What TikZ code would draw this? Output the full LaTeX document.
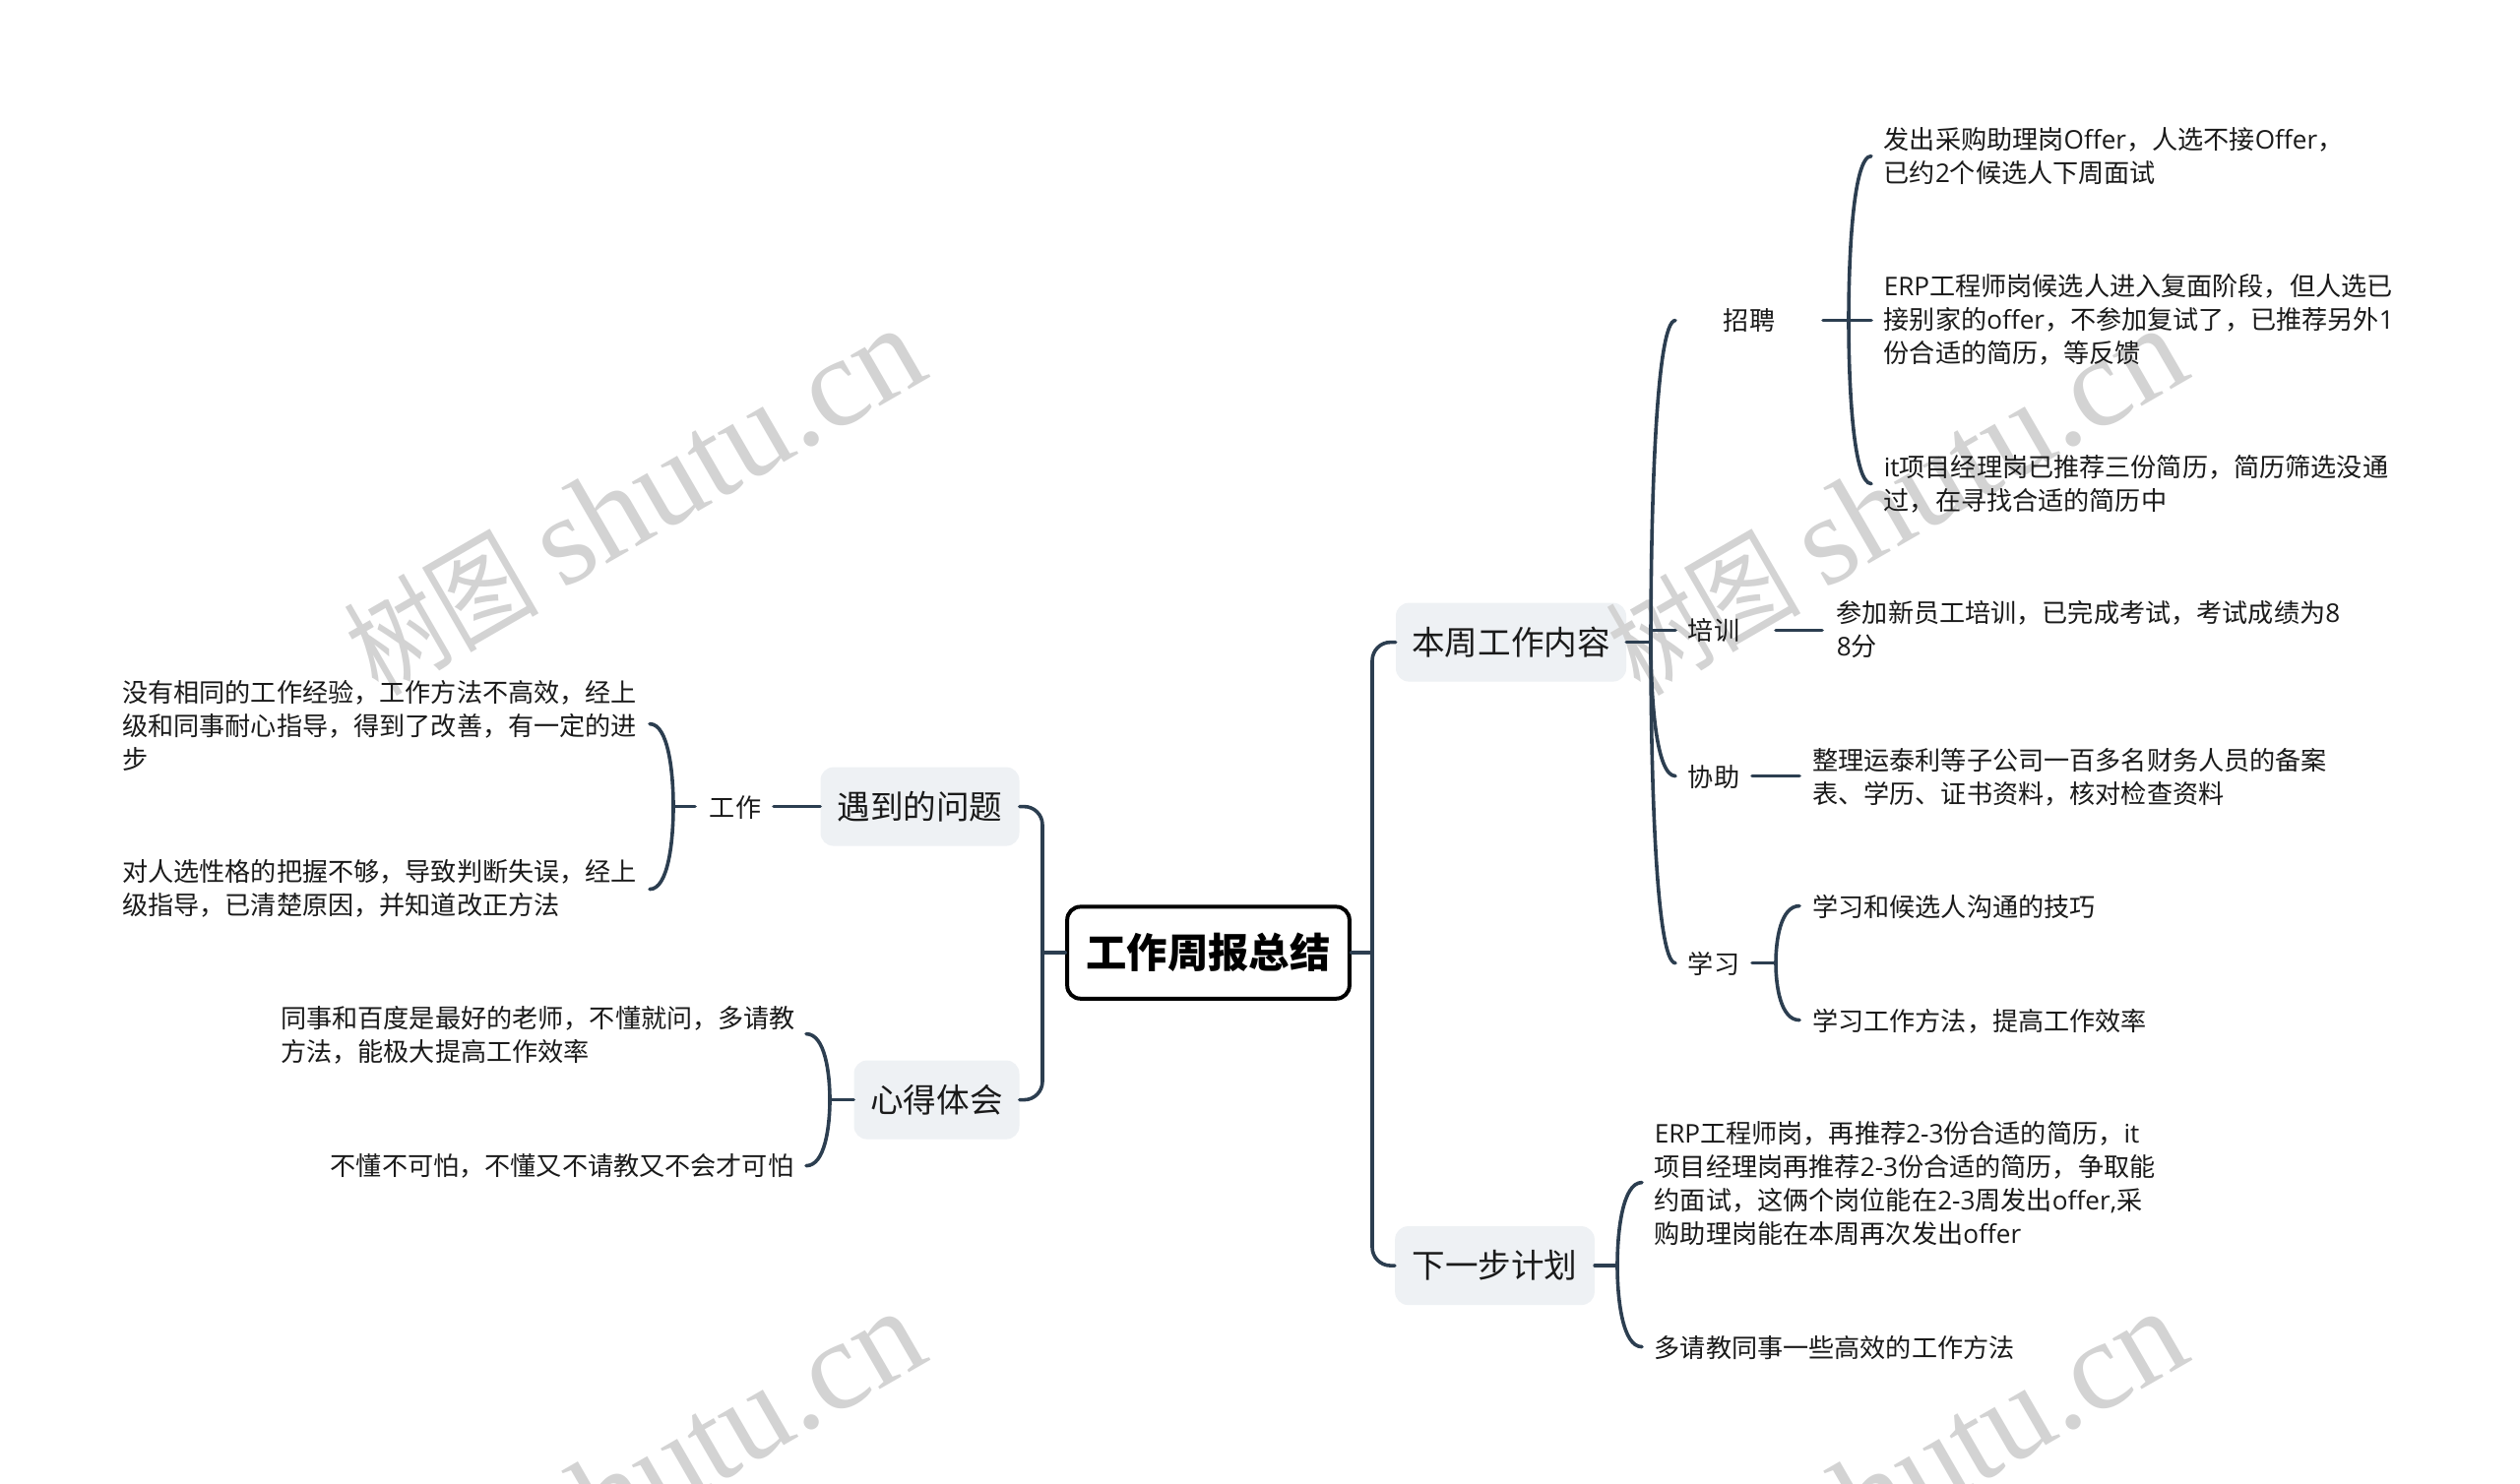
\documentclass[tikz,border=0pt]{standalone}
\usepackage{fontspec}
\setmainfont{Noto Sans CJK SC}
\newfontfamily\wmlatin{Liberation Serif}
\newfontfamily\lat{Open Sans}
\usetikzlibrary{calc}
\definecolor{linecol}{HTML}{2C3E50}
\definecolor{boxfill}{HTML}{EEF1F4}
\definecolor{wmcol}{HTML}{D3D3D3}
\definecolor{txtcol}{HTML}{1A1A1A}
\tikzset{
  rootbox/.style={draw=black,line width=3pt,fill=white,rounded corners=10pt,inner sep=0pt,minimum width=215pt,minimum height=70pt,font=\fontsize{31pt}{36pt}\selectfont\bfseries,text=black},
  topicbox/.style={fill=boxfill,rounded corners=10pt,inner sep=0pt,minimum height=60pt,font=\fontsize{25.2pt}{30pt}\selectfont,text=txtcol},
  subtopic/.style={inner sep=0pt,font=\fontsize{19.6pt}{25.5pt}\selectfont,text=txtcol},
  leaf/.style={inner sep=0pt,anchor=west,align=left,font=\fontsize{19.6pt}{25.5pt}\selectfont,text=txtcol},
  leafr/.style={inner sep=0pt,anchor=east,align=right,font=\fontsize{19.6pt}{25.5pt}\selectfont,text=txtcol},
  conn/.style={draw=linecol,line width=2.7pt,line cap=round},
  busline/.style={conn,rounded corners=14pt},
  wmark/.style={rotate=30,inner sep=0pt,text=wmcol,font=\fontsize{85pt}{85pt}\selectfont}
}
\newcommand{\wmtext}{\scalebox{0.84}[1]{树图}\hspace{18pt}{\wmlatin\fontsize{97pt}{97pt}\selectfont shutu.cn}}
\newcommand{\twig}[2]{\draw[conn] (#1) .. controls ($(#1|-#2)!0.6!(#1)$) and ($(#1|-#2)!0.2!(#2)$) .. (#2);}
\begin{document}
\begin{tikzpicture}[x=0.75pt,y=-0.75pt]
\useasboundingbox (0,0) rectangle (2560,1508);
\fill[white] (0,0) rectangle (2560,1508);
\begin{scope}[yshift=-1.2pt]
% boxes
\node[rootbox] (root) at (1227.5,966.5) {工作周报总结};
\node[topicbox,minimum width=175.5pt] (t1) at (1535,651) {本周工作内容};
\node[topicbox,minimum width=152pt] (t2) at (1518.5,1284.5) {下一步计划};
\node[topicbox,minimum width=151.5pt] (t3) at (934.5,818) {遇到的问题};
\node[topicbox,minimum width=126pt] (t4) at (951.5,1116) {心得体会};
% watermarks
\node[wmark] (wm1) at (645,506) {\wmtext};
\node[wmark] (wm2) at (1927,506) {\wmtext};
\node[wmark] (wm3) at (645,1505) {\wmtext};
\node[wmark] (wm4) at (1927,1505) {\wmtext};
% second level labels
\node[subtopic] (zp) at (1777,324) {招聘};
\node[subtopic] (px) at (1741,639) {培训};
\node[subtopic] (xz) at (1741,788) {协助};
\node[subtopic] (xx) at (1741,978) {学习};
\node[subtopic] (gz) at (747,819) {工作};
% leaves
\node[leaf] (a1) at (1913.5,157.5) {发出采购助理岗{\lat Offer}，人选不接{\lat Offer}，\\已约{\lat 2}个候选人下周面试};
\node[leaf] (a2) at (1913.5,323.5) {{\lat ERP}工程师岗候选人进入复面阶段，但人选已\\接别家的{\lat offer}，不参加复试了，已推荐另外{\lat 1}\\份合适的简历，等反馈};
\node[leaf] (a3) at (1913.5,490) {{\lat it}项目经理岗已推荐三份简历，简历筛选没通\\过，在寻找合适的简历中};
\node[leaf] (b1) at (1865.5,637.5) {参加新员工培训，已完成考试，考试成绩为{\lat 8}\\{\lat 8}分};
\node[leaf] (c1) at (1841,788) {整理运泰利等子公司一百多名财务人员的备案\\表、学历、证书资料，核对检查资料};
\node[leaf] (d1) at (1841,920) {学习和候选人沟通的技巧};
\node[leaf] (d2) at (1841,1036) {学习工作方法，提高工作效率};
\node[leaf] (e1) at (1680.5,1200.5) {{\lat ERP}工程师岗，再推荐{\lat 2-3}份合适的简历，{\lat it}\\项目经理岗再推荐{\lat 2-3}份合适的简历，争取能\\约面试，这俩个岗位能在{\lat 2-3}周发出{\lat offer,}采\\购助理岗能在本周再次发出{\lat offer}};
\node[leaf] (e2) at (1680.5,1367.5) {多请教同事一些高效的工作方法};
\node[leaf] (f1) at (124,736) {没有相同的工作经验，工作方法不高效，经上\\级和同事耐心指导，得到了改善，有一定的进\\步};
\node[leaf] (f2) at (124,901.5) {对人选性格的把握不够，导致判断失误，经上\\级指导，已清楚原因，并知道改正方法};
\node[leaf] (g1) at (285,1050.5) {同事和百度是最好的老师，不懂就问，多请教\\方法，能极大提高工作效率};
\node[leafr] (g2) at (806.5,1183) {不懂不可怕，不懂又不请教又不会才可怕};
% junctions
\coordinate (jr) at (1394,966.5);
\coordinate (jl) at (1059,966.5);
\coordinate (j1) at (1677,651);
\coordinate (j1p) at (1677,639);
\coordinate (e1zp) at (1702,324);
\coordinate (e1px) at (1702,639);
\coordinate (e1xz) at (1702,787);
\coordinate (e1xx) at (1702,977);
\coordinate (zpl) at (1852,324);
\coordinate (zpb) at (1878,324);
\coordinate (zpr) at (1901,324);
\coordinate (zpt) at (1901,157);
\coordinate (zpd) at (1901,490);
\coordinate (pxl) at (1804,639);
\coordinate (pxr) at (1851,639);
\coordinate (xzl) at (1780,787);
\coordinate (xzr) at (1828,787);
\coordinate (xxl) at (1780,977);
\coordinate (xxb) at (1804,977);
\coordinate (xxt) at (1828,919);
\coordinate (xxd) at (1828,1035);
\coordinate (j2) at (1643,1284.5);
\coordinate (t2a) at (1668,1200);
\coordinate (t2b) at (1668,1367);
\coordinate (gzr) at (786,818);
\coordinate (gzl) at (706,818);
\coordinate (gzb) at (684,818);
\coordinate (gza) at (660,734);
\coordinate (gzc) at (660,902);
\coordinate (j4) at (843,1116);
\coordinate (t4a) at (819,1049);
\coordinate (t4b) at (819,1183);
% root connectors
\draw[conn] (root.east) -- (jr);
\draw[conn] (root.west) -- (jl);
\draw[busline] (t1.west) -| (jr) |- (t2.west);
\draw[busline] (t3.east) -| (jl) |- (t4.east);
% topic 1
\draw[conn] (t1.east) -- (j1);
\twig{j1}{e1zp}
\twig{j1}{e1xz}
\twig{j1}{e1xx}
\draw[conn] (j1p) -- (e1px);
\draw[conn] (zpl) -- (zpr);
\twig{zpb}{zpt}
\twig{zpb}{zpd}
\draw[conn] (pxl) -- (pxr);
\draw[conn] (xzl) -- (xzr);
\draw[conn] (xxl) -- (xxb);
\twig{xxb}{xxt}
\twig{xxb}{xxd}
% topic 2
\draw[conn] (t2.east) -- (j2);
\twig{j2}{t2a}
\twig{j2}{t2b}
% topic 3
\draw[conn] (t3.west) -- (gzr);
\draw[conn] (gzl) -- (gzb);
\twig{gzb}{gza}
\twig{gzb}{gzc}
% topic 4
\draw[conn] (t4.west) -- (j4);
\twig{j4}{t4a}
\twig{j4}{t4b}
\end{scope}
\end{tikzpicture}
\end{document}
